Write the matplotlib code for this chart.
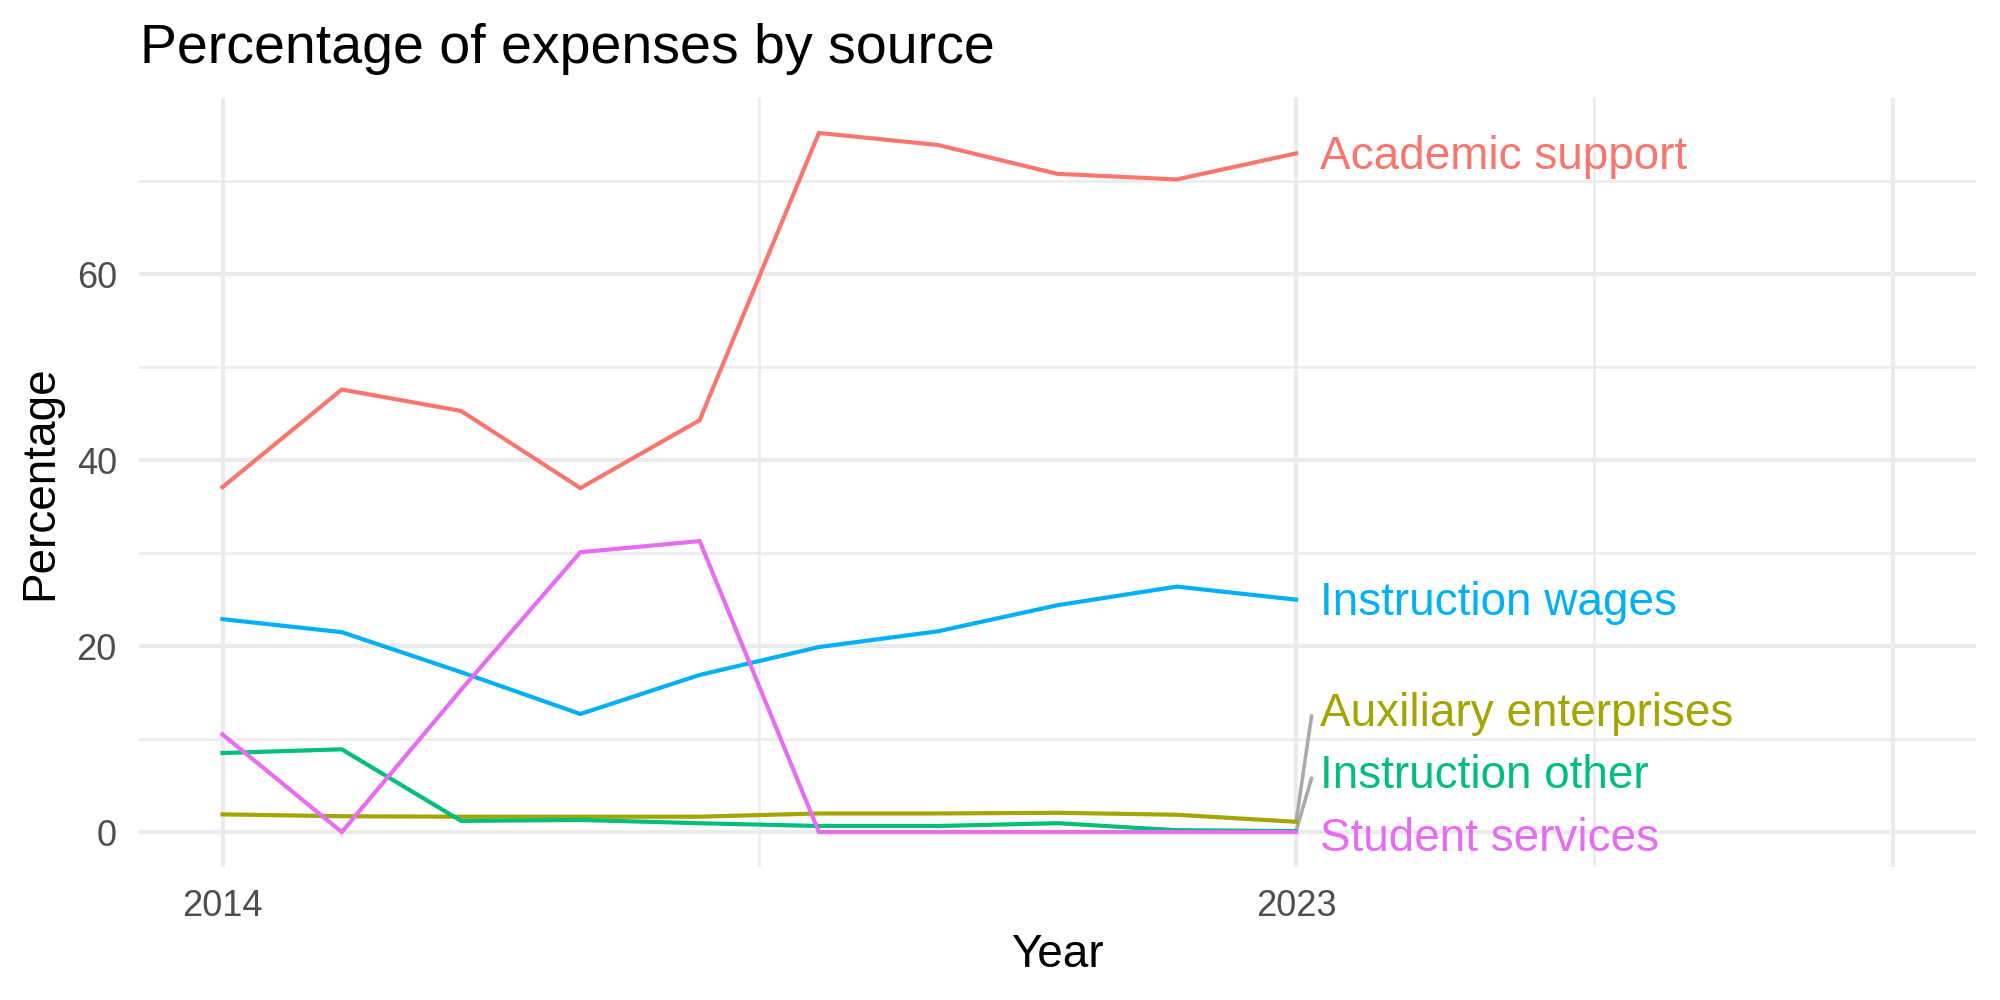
import matplotlib
matplotlib.use("Agg")
import matplotlib.pyplot as plt

years = [2014, 2015, 2016, 2017, 2018, 2019, 2020, 2021, 2022, 2023]

academic_support = [37.1, 47.6, 45.3, 37.0, 44.3, 75.2, 73.9, 70.8, 70.2, 73.0]
auxiliary_enterprises = [1.9, 1.7, 1.65, 1.65, 1.65, 2.0, 2.0, 2.07, 1.86, 1.1]
instruction_other = [8.5, 8.9, 1.2, 1.3, 0.95, 0.65, 0.65, 0.95, 0.2, 0.1]
instruction_wages = [22.9, 21.5, 17.2, 12.7, 16.9, 19.9, 21.6, 24.4, 26.4, 25.0]
student_services = [10.5, 0.0, 15.3, 30.1, 31.3, 0.0, 0.0, 0.0, 0.0, 0.0]

names = ["Academic support", "Auxiliary enterprises", "Instruction other",
         "Instruction wages", "Student services"]
series = [academic_support, auxiliary_enterprises, instruction_other,
          instruction_wages, student_services]
colors = ["#F8766D", "#A3A500", "#00BF7D", "#00B0F6", "#E76BF3"]

# where the repelled labels ended up (data units)
label_x = 2023.2
label_y = [72.6, 12.7, 6.0, 24.6, -0.7]

plt.rcParams["font.family"] = ["Liberation Sans", "DejaVu Sans"]

fig = plt.figure(figsize=(20, 10), dpi=100)
ax = fig.add_axes([0.0695, 0.133, 0.9185, 0.769])

# grid like theme_minimal
for v in [2014, 2023, 2028]:
    ax.axvline(v, color="#EBEBEB", lw=3.0, zorder=0)
for v in [2018.5, 2025.5]:
    ax.axvline(v, color="#EBEBEB", lw=1.8, zorder=0)
for v in [0, 20, 40, 60]:
    ax.axhline(v, color="#EBEBEB", lw=3.0, zorder=0)
for v in [10, 30, 50, 70]:
    ax.axhline(v, color="#EBEBEB", lw=1.8, zorder=0)

for name, vals, c, ly in zip(names, series, colors, label_y):
    ax.plot(years, vals, color=c, lw=3.0, zorder=2, solid_joinstyle="miter")
    if abs(ly - vals[-1]) > 2:
        ax.plot([years[-1], label_x - 0.07], [vals[-1], ly - 0.2],
                color="#AAAAAA", lw=2.6, zorder=1, solid_capstyle="round")
    ax.text(label_x, ly, name, color=c, fontsize=33, ha="left", va="center")

ax.set_xlim(2013.3, 2028.7)
ax.set_ylim(-3.76, 78.96)
ax.set_xticks([2014, 2023, 2028])
ax.set_xticklabels(["2014", "2023", ""])
ax.set_yticks([0, 20, 40, 60])
ax.tick_params(axis="both", length=0, labelsize=26, labelcolor="#4D4D4D")
ax.tick_params(axis="x", pad=16)
ax.tick_params(axis="y", pad=16)
for s in ax.spines.values():
    s.set_visible(False)

ax.set_xlabel("Year", fontsize=33, labelpad=6)
ax.set_ylabel("Percentage", fontsize=33, labelpad=10)
fig.text(0.07, 0.937, "Percentage of expenses by source", fontsize=40,
         ha="left", va="baseline")

fig.savefig("out.png", dpi=100)
